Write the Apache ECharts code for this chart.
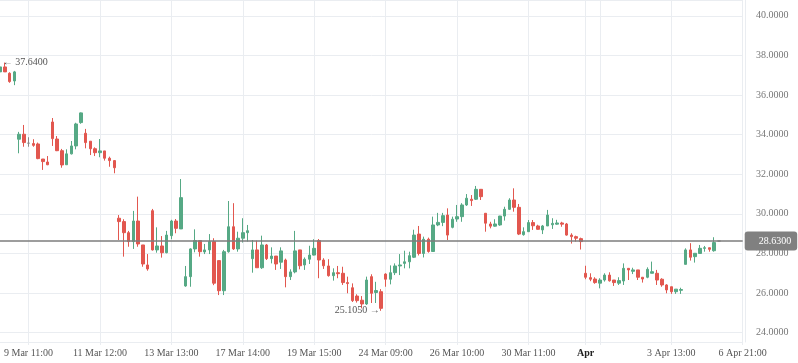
<!DOCTYPE html>
<html>
<head>
<meta charset="utf-8">
<script src="https://cdn.jsdelivr.net/npm/echarts@6/dist/echarts.min.js"></script>
<style>html,body{margin:0;padding:0;background:#fff}#c{width:798px;height:363px}</style>
</head>
<body>
<div id="c"></div>
<script>
// ---- categories (hourly sessions 09:00-15:00) ----
const firstDay = '6 Mar';
const firstDayHours = ['12:00','13:00','14:00','15:00'];
const sessionDays = ['9 Mar','10 Mar','11 Mar','12 Mar','13 Mar','16 Mar','17 Mar','18 Mar','19 Mar','20 Mar',
  '23 Mar','24 Mar','25 Mar','26 Mar','27 Mar','30 Mar','31 Mar','1 Apr','2 Apr','3 Apr','6 Apr'];
const sessionHours = ['09:00','10:00','11:00','12:00','13:00','14:00','15:00'];
const lastDay = '6 Apr';
const extraHours = ['16:00','17:00','18:00','19:00','20:00','21:00'];

// ---- tick labels ----
const tickLabels = ['9 Mar 11:00','11 Mar 12:00','13 Mar 13:00','17 Mar 14:00','19 Mar 15:00',
  '24 Mar 09:00','26 Mar 10:00','30 Mar 11:00','3 Apr 13:00','6 Apr 21:00'];
const monthTicks = {'1 Apr 09:00': 'Apr'};
const gridOnlyTicks = ['1 Apr 12:00'];

// ---- OHLC values ----
const open = [37.17,37.42,37.10,36.71,33.77,34.02,33.57,33.55,33.53,32.77,32.62,34.64,33.78,33.19,32.48,33.03,33.43,34.61,34.07,33.67,33.29,33.09,33.18,32.81,32.69,
29.78,29.61,29.05,28.60,29.64,28.43,27.42,30.16,28.18,28.38,28.04,28.90,29.64,29.24,26.36,26.83,28.23,28.65,28.08,28.18,28.60,27.64,26.12,28.09,29.35,28.23,28.77,29.05,27.74,28.18,27.28,28.43,27.74,27.87,27.56,27.67,26.83,27.07,28.18,27.42,27.71,27.92,28.65,27.67,27.37,26.88,27.03,
27.00,26.53,26.27,25.85,25.64,25.45,26.83,26.03,26.07,26.96,26.70,27.03,27.37,27.50,27.58,27.81,28.98,28.00,28.72,
28.10,29.44,29.57,29.94,29.32,29.74,29.86,30.45,30.74,30.74,31.24,30.03,29.49,29.38,29.44,29.89,30.23,30.70,30.33,28.95,29.10,29.56,29.39,29.19,29.39,29.45,29.48,29.54,29.49,28.93,28.85,28.75,
27.00,26.78,26.71,26.50,26.66,26.91,26.66,26.50,26.61,27.25,27.10,27.17,26.80,26.80,27.00,27.00,26.70,26.41,26.32,26.07,26.14,27.45,28.18,27.84,28.00,28.26,28.29,28.14,28.63];
const close = [37.42,37.17,36.68,37.17,34.02,33.60,33.57,33.46,32.79,32.64,32.48,33.80,33.19,32.47,33.03,33.43,34.54,35.10,33.60,33.29,33.09,33.18,32.81,32.69,32.33,
29.61,29.05,28.60,29.64,28.48,27.47,27.22,28.18,28.38,28.04,28.93,29.64,29.27,30.82,26.83,28.23,28.65,28.09,28.18,28.60,26.50,26.12,28.09,29.35,28.23,28.77,29.05,29.15,28.18,27.28,28.43,27.74,27.87,27.47,28.13,26.83,27.07,28.13,27.38,27.71,27.92,28.26,27.67,27.38,26.88,27.03,26.98,
26.53,26.48,25.62,25.62,25.45,26.66,25.99,26.13,25.23,26.70,27.03,27.37,27.42,27.58,27.89,28.93,28.00,28.72,28.10,
29.44,29.57,29.91,28.93,29.73,29.86,30.45,30.79,30.67,31.24,30.87,29.53,29.38,29.49,29.89,30.23,30.70,30.33,28.98,29.10,29.56,29.40,29.22,29.39,29.94,29.52,29.54,29.48,28.93,28.85,28.77,28.60,
26.80,26.70,26.53,26.66,26.91,26.62,26.53,26.63,27.25,27.17,27.17,26.80,26.71,27.20,27.08,26.66,26.41,26.16,26.07,26.20,26.18,28.18,27.81,28.01,28.26,28.29,28.21,28.55,28.63];
const low = [37.10,37.17,36.62,36.50,33.06,33.39,33.39,33.39,32.76,32.22,32.46,33.43,33.17,32.33,32.48,33.00,33.26,34.55,33.31,32.97,32.92,32.86,32.69,32.38,32.05,
28.68,27.84,28.34,28.23,28.34,27.33,27.13,28.15,28.04,27.79,28.01,28.72,29.02,29.24,26.32,26.32,28.06,27.84,27.97,27.97,26.40,25.90,25.90,28.04,28.18,28.09,28.55,28.60,27.03,27.28,27.22,27.67,27.50,27.17,27.22,26.29,26.66,27.00,27.20,27.17,27.47,27.90,26.75,27.22,26.83,26.63,26.75,
26.41,25.99,25.55,25.52,25.23,25.40,25.50,25.50,25.105,26.32,26.44,26.91,26.91,27.25,27.25,27.77,27.90,27.80,28.04,
28.10,29.38,29.38,28.68,29.27,29.60,29.60,30.40,30.40,30.70,30.70,29.10,29.27,29.35,29.40,29.66,30.20,30.11,28.93,28.90,29.10,29.19,29.20,28.98,29.39,29.24,29.45,29.35,28.90,28.50,28.60,28.20,
26.70,26.60,26.47,26.24,26.58,26.58,26.36,26.41,26.41,26.66,26.96,26.66,26.53,26.75,27.00,26.41,26.32,25.99,25.96,25.96,25.96,27.45,27.64,27.54,28.00,28.09,28.09,28.09,28.63];
const high = [37.50,37.64,37.15,37.22,34.14,34.49,33.87,33.77,33.60,32.77,32.92,34.84,33.93,33.28,33.26,33.68,34.60,35.12,34.29,33.67,33.36,33.78,33.18,32.89,32.72,
29.94,29.73,29.14,30.15,30.87,28.43,27.97,30.25,29.32,28.88,29.14,29.70,29.74,31.76,27.37,28.26,29.22,28.65,28.48,28.98,28.77,27.64,28.18,30.65,30.54,29.10,29.78,29.44,28.68,28.65,28.90,28.48,28.31,27.87,28.31,27.74,27.20,29.14,28.18,27.80,28.39,28.72,28.73,27.76,27.71,27.25,27.37,
27.33,26.83,26.49,25.94,25.85,26.83,26.95,26.57,26.20,27.00,27.40,27.50,27.97,28.14,28.09,29.20,29.39,28.85,28.80,
29.86,30.05,30.05,30.28,29.86,30.45,30.54,31.00,30.95,31.41,31.25,30.03,29.60,29.73,29.90,30.36,30.79,31.29,30.50,29.32,29.69,29.69,29.45,29.44,30.20,29.78,29.70,29.60,29.54,29.02,28.90,28.80,
27.38,27.00,26.80,26.75,27.00,27.05,26.66,26.80,27.50,27.25,27.28,27.17,26.80,27.30,27.59,27.17,26.75,26.45,26.32,26.20,26.27,28.26,28.52,28.01,28.43,28.38,28.29,28.82,28.63];

// ---- build what the library needs ----
const categories = []
  .concat(firstDayHours.map(h => firstDay + ' ' + h))
  .concat(sessionDays.flatMap(d => sessionHours.map(h => d + ' ' + h)))
  .concat(extraHours.map(h => lastDay + ' ' + h));
const candles = open.map((o, i) => [o, close[i], low[i], high[i]]);
const lastClose = close[close.length - 1];

const isLabel = (v) => tickLabels.includes(v) || monthTicks[v] !== undefined;
const isGrid = (v) => isLabel(v) || gridOnlyTicks.includes(v);

const UP = '#56a985', DOWN = '#e2574f', GRID = '#eaedf1';
const FONT = '"Liberation Serif", serif';

const chart = echarts.init(document.getElementById('c'), null, {renderer: 'canvas'});
chart.setOption({
  animation: false,
  backgroundColor: '#ffffff',
  grid: {left: -1.4, right: 55.3, top: 0, bottom: 21},
  xAxis: {
    type: 'category',
    data: categories,
    boundaryGap: false,
    axisLine: {show: true, lineStyle: {color: GRID, width: 1}},
    axisTick: {show: true, length: 3, interval: (i, v) => isGrid(v), lineStyle: {color: GRID}},
    splitLine: {show: true, interval: (i, v) => isGrid(v), lineStyle: {color: GRID, width: 1}},
    axisLabel: {
      interval: (i, v) => isLabel(v),
      formatter: (v) => monthTicks[v] ? '{m|' + monthTicks[v] + '}' : v,
      color: '#555', fontSize: 10, fontFamily: FONT, margin: 6,
      rich: {m: {fontWeight: 'bold', color: '#222', fontSize: 10, fontFamily: FONT}}
    }
  },
  yAxis: {
    type: 'value',
    position: 'right',
    offset: 2.3,
    min: 23.53, max: 40.8, splitNumber: 8,
    axisLine: {show: true, lineStyle: {color: GRID}},
    axisTick: {show: false},
    splitLine: {show: true, lineStyle: {color: GRID, width: 1}},
    axisLabel: {
      showMinLabel: false, showMaxLabel: false,
      formatter: (v) => v.toFixed(4),
      color: '#777', fontSize: 10, fontFamily: FONT, margin: 11
    }
  },
  series: [{
    type: 'candlestick',
    data: candles,
    barWidth: 3,
    clip: true,
    itemStyle: {
      color: UP, color0: DOWN, borderColor: UP, borderColor0: DOWN,
      borderColorDoji: '#888', borderWidth: 1
    },
    markPoint: {
      symbol: 'circle', symbolSize: 0, silent: true, animation: false,
      data: [
        {type: 'max', valueDim: 'highest',
         label: {show: true, position: 'right', distance: 0, offset: [-2, 0],
                 formatter: (p) => '\u2190 ' + Number(p.value).toFixed(4),
                 color: '#555', fontSize: 10, fontFamily: FONT}},
        {type: 'min', valueDim: 'lowest',
         label: {show: true, position: 'left', distance: 1,
                 formatter: (p) => Number(p.value).toFixed(4) + ' \u2192',
                 color: '#555', fontSize: 10, fontFamily: FONT}}
      ]
    },
    markLine: {
      silent: true, animation: false,
      symbol: ['none', 'none'],
      lineStyle: {color: '#7d7d7d', width: 1.5, type: 'solid'},
      label: {
        show: true, position: 'end', distance: 2,
        formatter: (p) => Number(p.value).toFixed(4),
        backgroundColor: '#808080', color: '#fff', fontSize: 10, fontFamily: FONT,
        padding: [5, 6, 4, 14], borderRadius: 3
      },
      data: [{yAxis: lastClose}]
    }
  }]
});
</script>
</body>
</html>
